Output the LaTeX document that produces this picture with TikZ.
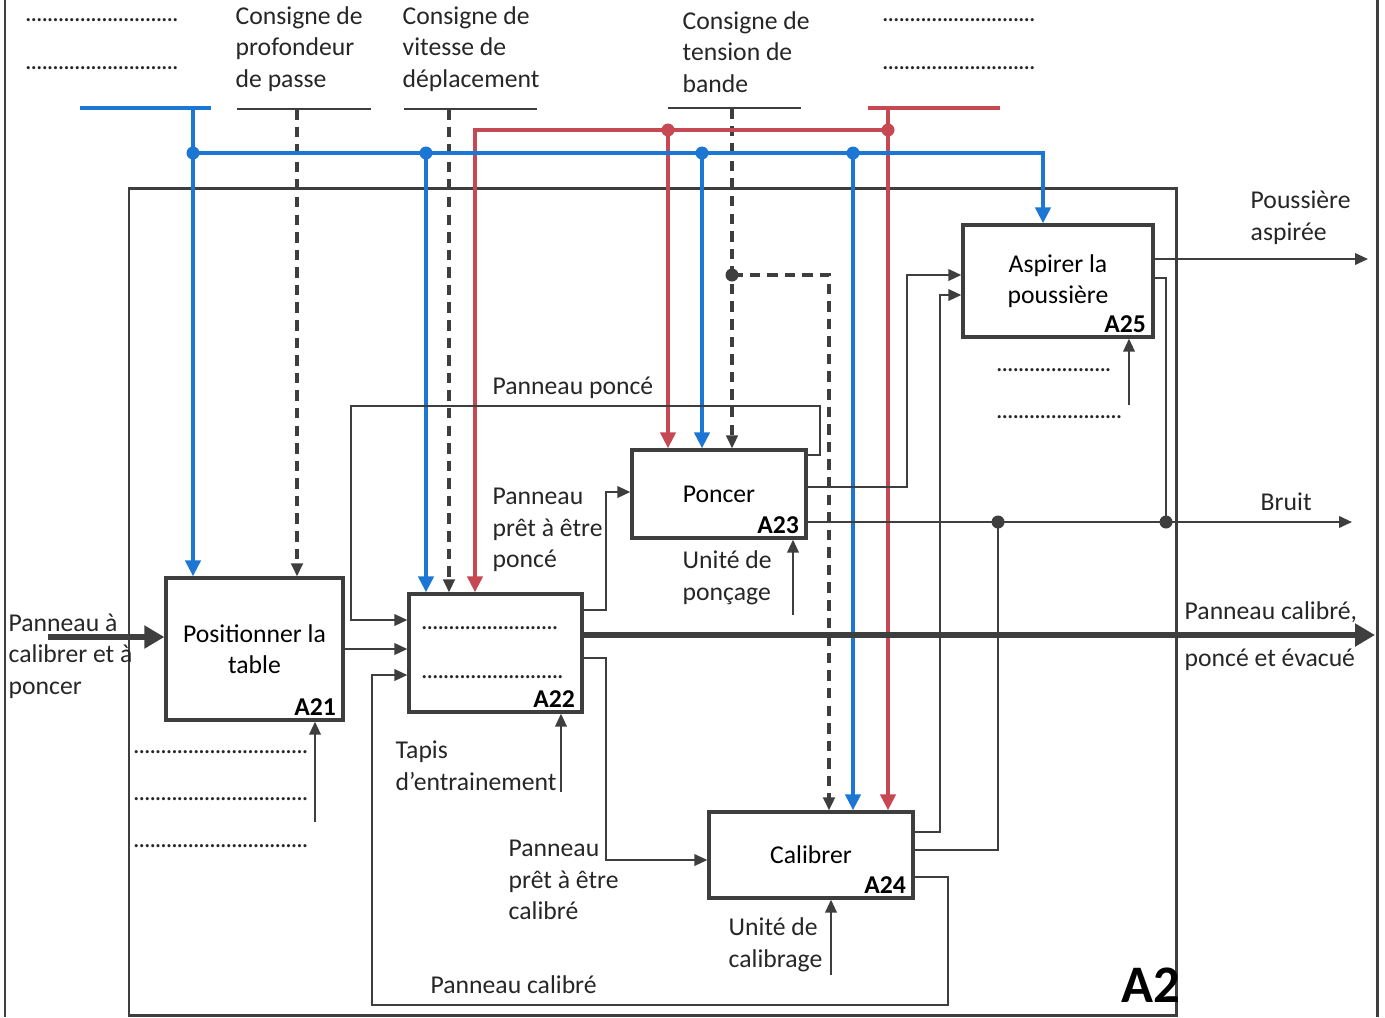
\documentclass[tikz,border=0pt]{standalone}
\usepackage{fontspec}
\setmainfont{Carlito}
\usetikzlibrary{arrows.meta}
\definecolor{cblue}{RGB}{28,118,212}
\definecolor{cred}{RGB}{198,72,82}
\definecolor{cline}{RGB}{62,62,62}
\newcommand{\dotrule}[1]{\makebox[#1]{\leaders\hbox to 1.55pt{\hss.\hss}\hfill}}

\begin{document}
\begin{tikzpicture}[x=0.01cm,y=-0.01cm,
  font=\fontsize{7.3}{9}\selectfont,
  actbox/.style={rectangle,draw=cline,line width=0.9pt,fill=white,align=center,inner sep=0pt},
  tag/.style={anchor=south east,font=\fontsize{7.3}{9}\selectfont\bfseries,inner sep=0pt,xshift=-0.08cm,yshift=0.05cm},
  lbl/.style={anchor=west,align=left,inner sep=0pt,text=black!85},
  frame/.style={draw=cline,line width=0.85pt},
  bar/.style={draw=cline,line width=0.7pt},
  bluebar/.style={draw=cblue,line width=1.4pt},
  redbar/.style={draw=cred,line width=1.4pt},
  arr/.style={draw=cline,line width=0.6pt,-{Triangle[length=1.3mm,width=1.15mm]}},
  ctrl/.style={draw=cline,line width=0.9pt,dash pattern=on 3pt off 2pt,-{Triangle[length=1.3mm,width=1.15mm]}},
  bluearr/.style={bluebar,-{Triangle[length=1.6mm,width=1.5mm]}},
  redarr/.style={redbar,-{Triangle[length=1.6mm,width=1.5mm]}},
  thickarr/.style={draw=cline,line width=1.8pt,-{Triangle[length=2mm,width=2.2mm]}}
]
  \useasboundingbox (0,0) rectangle (1385,1017);

  % frames
  \draw[frame] (5,0) -- (5,1017);
  \draw[frame] (1377,0) -- (1377,1017);
  \draw[frame] (129,188) rectangle (1176,1015);

  % activities
  \node[actbox,minimum width=1.77cm,minimum height=1.42cm] (a21) at (254.5,649) {Positionner la\\table};
  \node[actbox,minimum width=1.73cm,minimum height=1.18cm] (a22) at (495.5,653) {};
  \node[actbox,minimum width=1.74cm,minimum height=0.88cm] (a23) at (719,494) {Poncer};
  \node[actbox,minimum width=2.04cm,minimum height=0.86cm] (a24) at (811,855) {Calibrer};
  \node[actbox,minimum width=1.90cm,minimum height=1.12cm] (a25) at (1058,281) {Aspirer la\\poussière};
  \node[tag] at (a21.south east) {A21};
  \node[tag] at (a22.south east) {A22};
  \node[tag] at (a23.south east) {A23};
  \node[tag] at (a24.south east) {A24};
  \node[tag] at (a25.south east) {A25};
  \node[lbl] (a22d1) at (421,628) {\dotrule{1.38cm}};
  \node[lbl] (a22d2) at (421,677) {\dotrule{1.45cm}};

  % free ends
  \coordinate (cb) at (193,108);
  \coordinate (c21) at (297,109);
  \coordinate (c22) at (449,109);
  \coordinate (c23) at (732,108);
  \coordinate (cr) at (888,108);
  \coordinate (jd) at (732,275);
  \coordinate (inp) at (48,637);
  \coordinate (outmain) at (1375,635);
  \coordinate (outdust) at (1368,259);
  \coordinate (outnoise) at (1352,522);
  \coordinate (m21) at (315,822);
  \coordinate (m22) at (561,792);
  \coordinate (m23) at (793,615);
  \coordinate (m24) at (831,975);
  \coordinate (m25) at (1129,405);

  % control bars
  \draw[bar] (237,109) -- (371,109);
  \draw[bar] (404,109) -- (537,109);
  \draw[bar] (668,108) -- (801,108);
  \draw[bluebar] (80,108) -- (211,108);
  \draw[redbar] (868,108) -- (1000,108);

  % dashed controls
  \draw[ctrl] (c21) -- (c21 |- a21.north);
  \draw[ctrl] (c22) -- (c22 |- a22.north);
  \draw[ctrl] (c23) -- (c23 |- a23.north);
  \draw[ctrl] (jd) -| (829,0 |- a24.north);
  \fill[cline] (jd) circle[radius=0.65mm];

  % red controls
  \draw[redarr] (cr) -- (cr |- a24.north);
  \draw[redarr] (888,130) -| (475,0 |- a22.north);
  \draw[redarr] (668,130) -- (668,0 |- a23.north);

  % blue controls
  \draw[bluearr] (cb) -- (cb |- a21.north);
  \draw[bluearr] (193,153) -| (1043,0 |- a25.north);
  \foreach \x/\b in {426/a22,702/a23,853/a24}
    \draw[bluearr] (\x,153) -- (\x,0 |- \b.north);
  \foreach \x in {193,426,702,853}
    \fill[cblue] (\x,153) circle[radius=0.65mm];
  \foreach \x in {668,888}
    \fill[cred] (\x,130) circle[radius=0.65mm];

  % flows
  \draw[thickarr] (inp) -- (inp -| a21.west);
  \draw[arr] (a21.east) -- (a21.east -| a22.west);
  \draw[thickarr] (a22.east |- outmain) -- (outmain);
  \draw[arr] (a22.east |- 0,610) -- (606,610) |- (a23.west |- 0,492);
  \draw[arr] (a22.east |- 0,658) -- (606,658) |- (a24.west |- 0,860);
  \draw[arr] (a23.east |- 0,455) -| (820,406) -| (351,620) -- (a22.west |- 0,620);
  \draw[arr] (a24.east |- 0,877) -| (948,1005) -| (372,675) -- (a22.west |- 0,675);
  \draw[arr] (a23.east |- 0,487) -| (907,275) -- (a25.west |- 0,275);
  \draw[arr] (a24.east |- 0,832) -| (940,295) -- (a25.west |- 0,295);
  \draw[arr] (a23.east |- outnoise) -- (outnoise);
  \draw[draw=cline,line width=0.6pt] (a24.east |- 0,850) -| (998,522);
  \draw[draw=cline,line width=0.6pt] (a25.east |- 0,278) -| (1166,522);
  \foreach \x in {998,1166}
    \fill[cline] (\x,522) circle[radius=0.65mm];
  \draw[arr] (a25.east |- outdust) -- (outdust);

  % mechanisms
  \draw[arr] (m21) -- (m21 |- a21.south);
  \draw[arr] (m22) -- (m22 |- a22.south);
  \draw[arr] (m23) -- (m23 |- a23.south);
  \draw[arr] (m24) -- (m24 |- a24.south);
  \draw[arr] (m25) -- (m25 |- a25.south);

  % labels
  \node[lbl] (d1) at (25,20) {\dotrule{1.55cm}};
  \node[lbl] (d2) at (25,68) {\dotrule{1.55cm}};
  \node[lbl] (d3) at (882,20) {\dotrule{1.55cm}};
  \node[lbl] (d4) at (882,68) {\dotrule{1.55cm}};
  \node[lbl] (cprof) at (235,49) {Consigne de\\profondeur\\de passe};
  \node[lbl] (cvit) at (402,49) {Consigne de\\vitesse de\\déplacement};
  \node[lbl] (ctens) at (682,52) {Consigne de\\tension de\\bande};
  \node[lbl] (lin) at (8,656) {Panneau à\\calibrer et à\\poncer};
  \node[lbl] (lponce) at (492,388) {Panneau poncé};
  \node[lbl] (lpret) at (492,530) {Panneau\\prêt à être\\poncé};
  \node[lbl] (lpretc) at (508,880) {Panneau\\prêt à être\\calibré};
  \node[lbl] (lcalib) at (430,985) {Panneau calibré};
  \node[lbl] (ltapis) at (395,766) {Tapis\\d’entrainement};
  \node[lbl] (luponc) at (682,578) {Unité de\\ponçage};
  \node[lbl] (lucal) at (728,945) {Unité de\\calibrage};
  \node[lbl] (ldust) at (1250,218) {Poussière\\aspirée};
  \node[lbl] (lnoise) at (1260,502) {Bruit};
  \node[lbl] (lout1) at (1184,612) {Panneau calibré,};
  \node[lbl] (lout2) at (1184,660) {poncé et évacué};
  \foreach \y in {752,799,846}
    \node[lbl] at (133,\y) {\dotrule{1.75cm}};
  \node[lbl] (d25a) at (996,370) {\dotrule{1.19cm}};
  \node[lbl] (d25b) at (996,417) {\dotrule{1.26cm}};
  \node[anchor=east,inner sep=0pt,font=\fontsize{15}{15}\selectfont\bfseries] (ltitle) at (1181,985) {A2};
\end{tikzpicture}
\end{document}
